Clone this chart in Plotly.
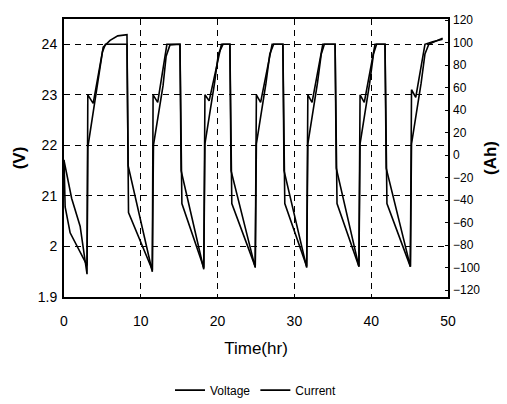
import plotly.graph_objects as go

# Voltage trace (left axis, V)
volt_t = [0, 1.0, 2.1, 3.0,
          3.1, 3.8, 5.0, 5.4, 8.2,
          8.35, 11.5,
          11.6, 12.2, 13.2, 13.4, 15.1,
          15.25, 18.2,
          18.35, 18.9, 20.3, 20.5, 21.6,
          21.75, 24.9,
          25.05, 25.6, 26.9, 27.1, 28.5,
          28.65, 31.6,
          31.75, 32.3, 33.5, 33.7, 35.3,
          35.45, 38.4,
          38.55, 39.1, 40.3, 40.5, 41.8,
          41.95, 45.1,
          45.25, 45.8, 46.8, 47.0, 48.0, 49.3]
volt_v = [21.7, 20.95, 20.4, 19.45,
          23.0, 22.83, 23.85, 24.0, 24.0,
          21.6, 19.5,
          23.0, 22.85, 23.85, 24.0, 24.0,
          21.5, 19.55,
          23.0, 22.88, 23.9, 24.0, 24.0,
          21.5, 19.58,
          23.0, 22.85, 23.9, 24.0, 24.0,
          21.5, 19.58,
          23.0, 22.85, 23.9, 24.0, 24.0,
          21.55, 19.6,
          23.0, 22.85, 23.9, 24.0, 24.0,
          21.55, 19.6,
          23.1, 22.95, 23.9, 24.0, 24.05, 24.1]

# Current trace (right axis, Ah)
curr_t = [0, 0.15, 0.8, 3.0,
          3.1, 5.1, 6.0, 7.0, 8.2,
          8.4, 11.5,
          11.65, 12.9, 13.3, 13.8, 15.1,
          15.35, 18.2,
          18.35, 19.6, 20.1, 20.7, 21.6,
          21.85, 24.9,
          25.05, 26.3, 26.8, 27.3, 28.5,
          28.75, 31.6,
          31.75, 33.0, 33.5, 33.9, 35.3,
          35.55, 38.4,
          38.55, 39.8, 40.3, 40.7, 41.8,
          42.05, 45.1,
          45.25, 46.5, 47.0, 47.5, 49.3]
curr_a = [-4, -46, -69, -98,
          7, 96, 102, 106, 107,
          -51, -102,
          9, 62, 88, 98, 98.5,
          -43, -100,
          10, 64, 90, 98.5, 98.5,
          -43, -99,
          10, 64, 90, 98.5, 98.5,
          -43, -99,
          10, 64, 90, 98.5, 98.5,
          -43, -99,
          10, 64, 90, 98.5, 98.5,
          -43, -99,
          10, 64, 90, 98.5, 104]

left_vals = [19, 20, 21, 22, 23, 24]
left_text = ["1.9", "2", "21", "22", "23", "24"]
right_vals = [-120, -100, -80, -60, -40, -20, 0, 20, 40, 60, 80, 100, 120]
x_vals = [0, 10, 20, 30, 40, 50]

FONT = "Liberation Sans, Arial, sans-serif"

fig = go.Figure()
fig.add_trace(go.Scatter(x=volt_t, y=volt_v, mode="lines", name="Voltage",
                         line=dict(color="black", width=1.6)))
fig.add_trace(go.Scatter(x=curr_t, y=curr_a, mode="lines", name="Current",
                         yaxis="y2", line=dict(color="black", width=1.6)))

fig.update_layout(
    width=507, height=404,
    margin=dict(l=64, r=59, t=19, b=107, autoexpand=False),
    paper_bgcolor="white", plot_bgcolor="white",
    font=dict(family=FONT, color="black", size=14),
    showlegend=True,
    legend=dict(orientation="h", x=0.5, xanchor="center", y=-0.335, yanchor="middle",
                font=dict(size=12, family=FONT), itemwidth=30, tracegroupgap=0,
                bgcolor="rgba(0,0,0,0)"),
    xaxis=dict(range=[0, 50], tickvals=x_vals, showgrid=True, automargin=False,
               gridcolor="black", griddash="6px,5px", gridwidth=1,
               showline=True, linecolor="black", linewidth=2, mirror=True,
               zeroline=False, ticks="", tickfont=dict(size=14),
               ticklabelstandoff=10,
               title=dict(text="Time(hr)", font=dict(size=17), standoff=14)),
    yaxis=dict(range=[19, 24.5], tickvals=left_vals, ticktext=left_text, automargin=False,
               showgrid=True, gridcolor="black", griddash="6px,5px", gridwidth=1,
               showline=True, linecolor="black", linewidth=2, mirror=True,
               zeroline=False, ticks="inside", ticklen=4, tickcolor="black",
               tickfont=dict(size=14), ticklabelstandoff=2,
               title=dict(text="<b>(V)</b>", font=dict(size=17), standoff=8)),
    yaxis2=dict(range=[-126, 121], tickvals=right_vals, overlaying="y", side="right",
                showgrid=False, zeroline=False, showline=False, automargin=False,
                ticks="inside", ticklen=3, tickcolor="black",
                tickfont=dict(size=12), ticklabelstandoff=4,
                title=dict(text="<b>(Ah)</b>", font=dict(size=17), standoff=4)),
)

fig.write_html("out.html")
